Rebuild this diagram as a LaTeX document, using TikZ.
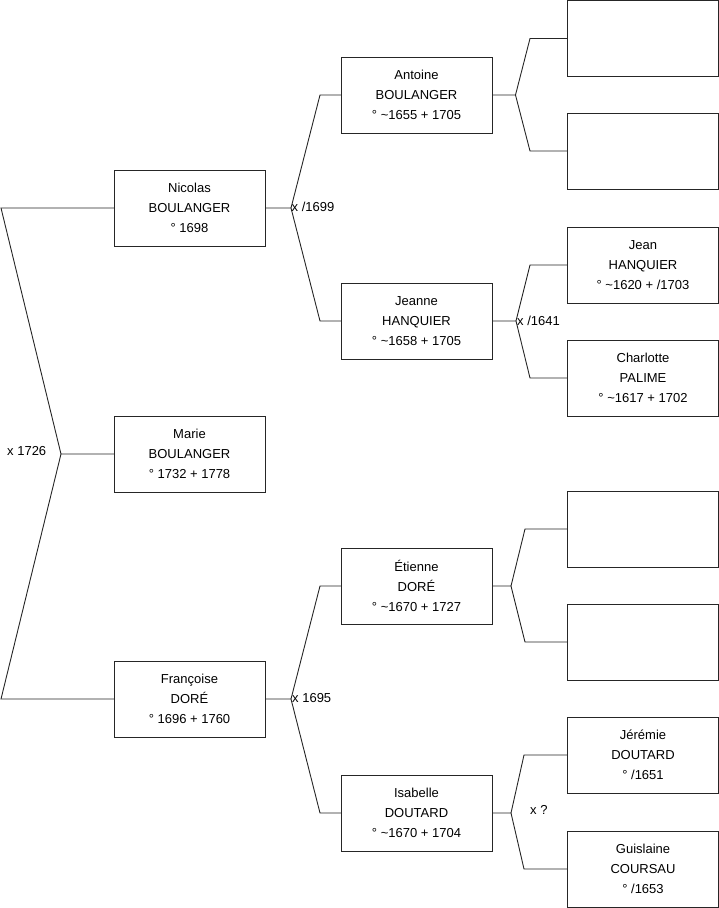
\documentclass[tikz,border=0pt]{standalone}
\usepackage{fontspec}
\setmainfont{Liberation Sans}
\begin{document}
\begin{tikzpicture}[x=1pt,y=-1pt,
  person/.style={draw=black!85,line width=1pt,minimum width=151pt,minimum height=76pt,
    inner sep=0pt,outer sep=0pt,align=center,font=\fontsize{13}{20}\selectfont},
  link/.style={draw=black!85,line width=0.9pt},
  lbl/.style={font=\fontsize{13}{16}\selectfont,inner sep=0pt}]
\useasboundingbox (0,0) rectangle (719,908);
% generation 1
\node[person] (nic) at (189.5,208) {Nicolas\\BOULANGER\\° 1698};
\node[person] (mar) at (189.5,454) {Marie\\BOULANGER\\° 1732 + 1778};
\node[person] (fra) at (189.5,699) {Françoise\\DORÉ\\° 1696 + 1760};
% generation 2
\node[person] (ant) at (416.5,95) {Antoine\\BOULANGER\\° \textasciitilde1655 + 1705};
\node[person] (jea) at (416.5,321) {Jeanne\\HANQUIER\\° \textasciitilde1658 + 1705};
\node[person] (eti) at (416.5,586) {Étienne\\DORÉ\\° \textasciitilde1670 + 1727};
\node[person] (isa) at (416.5,813) {Isabelle\\DOUTARD\\° \textasciitilde1670 + 1704};
% generation 3
\node[person] (e1) at (643,38.5) {};
\node[person] (e2) at (643,151) {};
\node[person] (jn) at (643,265) {Jean\\HANQUIER\\° \textasciitilde1620 + /1703};
\node[person] (ch) at (643,378) {Charlotte\\PALIME\\° \textasciitilde1617 + 1702};
\node[person] (e3) at (643,529) {};
\node[person] (e4) at (643,642) {};
\node[person] (jr) at (643,755) {Jérémie\\DOUTARD\\° /1651};
\node[person] (gu) at (643,869) {Guislaine\\COURSAU\\° /1653};
% bend coordinates
\coordinate (l1) at (1,208);
\coordinate (lj) at (61,454);
\coordinate (l2) at (1,699);
\coordinate (nj) at (291,208);
\coordinate (n1) at (320,95);
\coordinate (n2) at (320,321);
\coordinate (fj) at (291,699);
\coordinate (f1) at (320,586);
\coordinate (f2) at (320,813);
\coordinate (aj) at (515.5,95);
\coordinate (a1) at (530,38.5);
\coordinate (a2) at (530,151);
\coordinate (jj) at (516,321);
\coordinate (j1) at (530,265);
\coordinate (j2) at (530,378);
\coordinate (ej) at (511,586);
\coordinate (et1) at (525,529);
\coordinate (et2) at (525,642);
\coordinate (ij) at (511,813);
\coordinate (i1) at (524,755);
\coordinate (i2) at (524,869);
% connectors
\draw[link] (nic.west) -- (l1) -- (lj) -- (mar.west);
\draw[link] (lj) -- (l2) -- (fra.west);
\draw[link] (nic.east) -- (nj) -- (n1) -- (ant.west);
\draw[link] (nj) -- (n2) -- (jea.west);
\draw[link] (fra.east) -- (fj) -- (f1) -- (eti.west);
\draw[link] (fj) -- (f2) -- (isa.west);
\draw[link] (ant.east) -- (aj) -- (a1) -- (e1.west);
\draw[link] (aj) -- (a2) -- (e2.west);
\draw[link] (jea.east) -- (jj) -- (j1) -- (jn.west);
\draw[link] (jj) -- (j2) -- (ch.west);
\draw[link] (eti.east) -- (ej) -- (et1) -- (e3.west);
\draw[link] (ej) -- (et2) -- (e4.west);
\draw[link] (isa.east) -- (ij) -- (i1) -- (jr.west);
\draw[link] (ij) -- (i2) -- (gu.west);
% marriage labels
\node[lbl,anchor=west] (m1) at (7,451) {x 1726};
\node[lbl,anchor=west] (m2) at (291.5,207) {x /1699};
\node[lbl,anchor=west] (m3) at (517,321) {x /1641};
\node[lbl,anchor=west] (m4) at (292,698) {x 1695};
\node[lbl,anchor=west] (m5) at (530,810) {x ?};
\end{tikzpicture}
\end{document}
